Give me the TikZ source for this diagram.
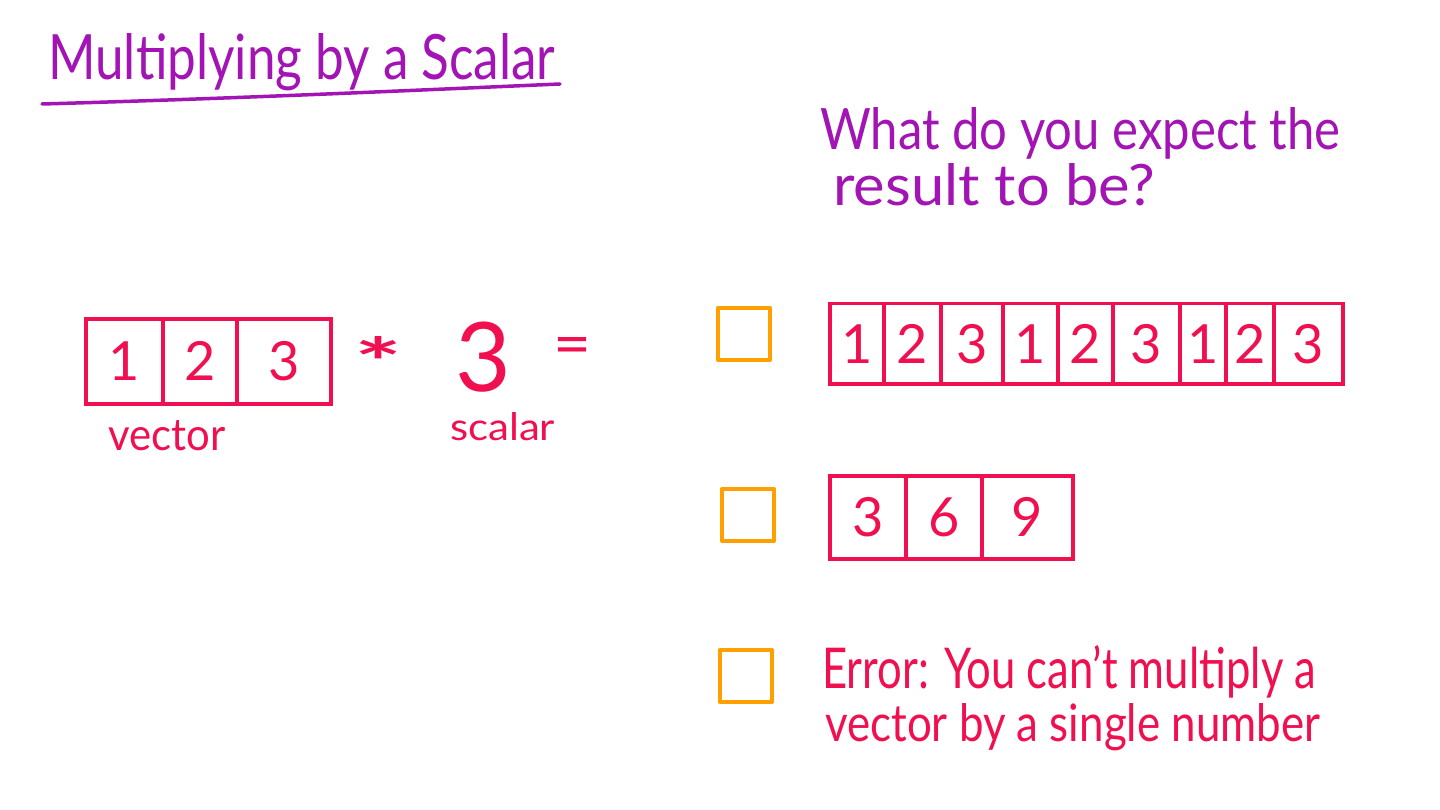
\documentclass[tikz,border=0pt]{standalone}
\usepackage{fontspec}
\usepackage{graphicx}
\setmainfont{Lato}
\definecolor{vpurple}{HTML}{A214B4}
\definecolor{vred}{HTML}{F01050}
\definecolor{vorange}{HTML}{FFA000}
\tikzset{
  cell/.style={draw=vred, line width=3.5pt, anchor=north west, inner sep=0pt, text=vred,
    font=\fontsize{54}{58}\selectfont},
  chk/.style={draw=vorange, line width=4pt, line join=round, anchor=north west, inner sep=0pt,
    minimum width=52pt, minimum height=52pt},
  hand/.style={anchor=base west, inner sep=0pt},
  sym/.style={text=vred, inner sep=0pt, anchor=center},
}
\begin{document}
\begin{tikzpicture}[x=1pt,y=-1pt]
\useasboundingbox[fill=white] (0,0) rectangle (1440,810);

% title
\node[hand, text=vpurple] (title) at (48,80) {\resizebox{507pt}{46pt}{Multiplying by a Scalar}};
\coordinate (ulA) at (42,104);
\coordinate (ulB) at (560,84);
\draw[vpurple, line width=3.5pt, line cap=round] (ulA) .. controls (250,98) and (420,90) .. (ulB);

% question
\node[hand, text=vpurple] (q1) at (820,150) {\resizebox{520pt}{42pt}{What do you expect the}};
\node[hand, text=vpurple] (q2) at (833,206) {\resizebox{322pt}{42pt}{result to be?}};

% vector
\node[cell, minimum width=77pt, minimum height=85pt] (v1) at (84,317) {1};
\node[cell, minimum width=74pt, minimum height=85pt] (v2) at (161,317) {2};
\node[cell, minimum width=94pt, minimum height=85pt] (v3) at (235,317) {3};
\node[hand, text=vred] (vlab) at (108,450) {\resizebox{117pt}{30pt}{vector}};

\node[sym] (star) at (378,361) {\resizebox{48pt}{50pt}{\bfseries *}};
\node[sym, font=\fontsize{96}{100}\selectfont] (sc) at (483,357) {3};
\node[hand, text=vred] (slab) at (450,440) {\resizebox{105pt}{28pt}{scalar}};
\node[sym] (eq) at (573,351) {\resizebox{38pt}{28pt}{=}};

% option 1
\node[chk] (c1) at (716,306) {};
\node[cell, minimum width=54pt, minimum height=80pt] (a1) at (828,302) {1};
\node[cell, minimum width=57pt, minimum height=80pt] (a2) at (882,302) {2};
\node[cell, minimum width=62pt, minimum height=80pt] (a3) at (939,302) {3};
\node[cell, minimum width=55pt, minimum height=80pt] (a4) at (1001,302) {1};
\node[cell, minimum width=55pt, minimum height=80pt] (a5) at (1056,302) {2};
\node[cell, minimum width=67pt, minimum height=80pt] (a6) at (1111,302) {3};
\node[cell, minimum width=46pt, minimum height=80pt] (a7) at (1178,302) {1};
\node[cell, minimum width=48pt, minimum height=80pt] (a8) at (1224,302) {2};
\node[cell, minimum width=69pt, minimum height=80pt] (a9) at (1272,302) {3};

% option 2
\node[chk] (c2) at (720,487) {};
\node[cell, minimum width=76pt, minimum height=83pt] (b1) at (828,474) {3};
\node[cell, minimum width=76pt, minimum height=83pt] (b2) at (904,474) {6};
\node[cell, minimum width=91pt, minimum height=83pt] (b3) at (980,474) {9};

% option 3
\node[chk] (c3) at (718,648) {};
\node[hand, text=vred] (e1) at (822,688) {\resizebox{494pt}{43pt}{Error: You can't multiply a}};
\node[hand, text=vred] (e2) at (825,741) {\resizebox{495pt}{38pt}{vector by a single number}};
\end{tikzpicture}
\end{document}
